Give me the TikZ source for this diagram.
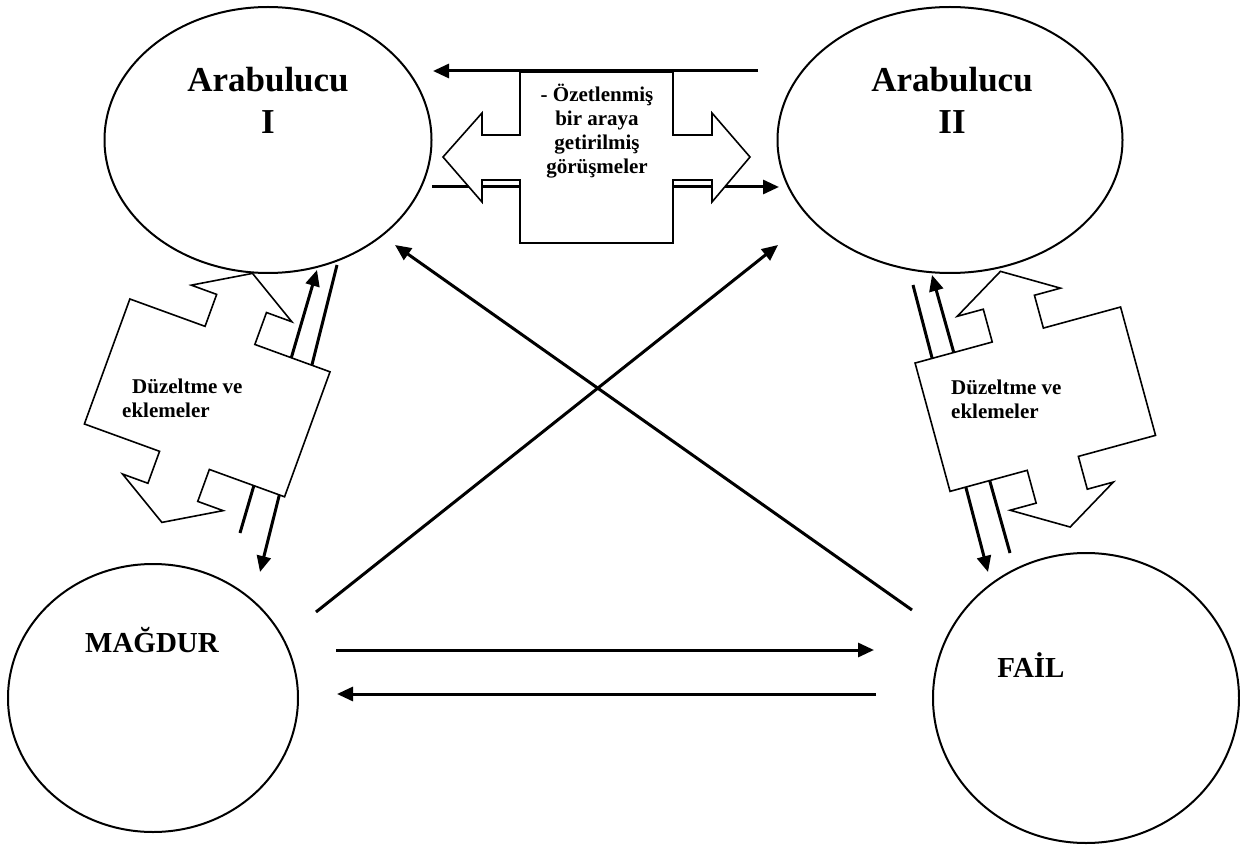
\documentclass[tikz,border=0pt]{standalone}
\usepackage{fontspec}
\setmainfont{Liberation Serif}
\usetikzlibrary{arrows.meta,shapes.geometric}
\begin{document}
\begin{tikzpicture}[x=1pt,y=-1pt,
  ell/.style={draw, line width=2pt, ellipse, inner sep=0pt},
  conn/.style={line width=3pt, -{Triangle[length=16pt,width=14pt]}},
  plainline/.style={line width=3pt},
  callout/.style={draw, fill=white, line width=1.6pt, line join=miter},
  biglbl/.style={font=\fontsize{35}{42}\selectfont\bfseries, inner sep=0pt, align=center},
  namelbl/.style={font=\fontsize{29}{34}\selectfont\bfseries, inner sep=0pt},
  smalllbl/.style={font=\fontsize{21}{24}\selectfont\bfseries, inner sep=0pt},
  vcallout/.pic={
    \draw[callout] (-106.5,-66.5) -- (-26.5,-66.5) -- (-26.5,-100.5) -- (-53.5,-100.5)
      -- (0,-132.5) -- (53.5,-100.5) -- (26.5,-100.5) -- (26.5,-66.5) -- (106.5,-66.5)
      -- (106.5,66.5) -- (26.5,66.5) -- (26.5,100.5) -- (53.5,100.5) -- (0,132.5)
      -- (-53.5,100.5) -- (-26.5,100.5) -- (-26.5,66.5) -- (-106.5,66.5) -- cycle;
  }
]
\path[use as bounding box] (0,0) rectangle (1240,845);

% ellipses
\node[ell, minimum width=327pt, minimum height=266pt] (med1) at (268,140) {};
\node[ell, minimum width=345pt, minimum height=266pt] (med2) at (950,140) {};
\node[ell, minimum width=290pt, minimum height=268pt] (victim) at (153,698) {};
\node[ell, minimum width=306pt, minimum height=290pt] (offender) at (1086,698) {};

% connector end points
\coordinate (t1s) at (758,71);   \coordinate (t1e) at (433,71);
\coordinate (t2s) at (432,187);  \coordinate (t2e) at (779,187);
\coordinate (l1s) at (240,533);  \coordinate (l1e) at (317,270);
\coordinate (l2s) at (337,265);  \coordinate (l2e) at (260,572);
\coordinate (r1s) at (1010,553); \coordinate (r1e) at (932,275);
\coordinate (r2s) at (913,285);  \coordinate (r2e) at (988,572);
\coordinate (d1s) at (912,610);  \coordinate (d1e) at (395,245);
\coordinate (d2s) at (316,612);  \coordinate (d2e) at (778,245);
\coordinate (h1s) at (336,650);  \coordinate (h1e) at (874,650);
\coordinate (h2s) at (876,694);  \coordinate (h2e) at (337,694);

\draw[conn] (t1s) -- (t1e);
\draw[conn] (t2s) -- (t2e);
\draw[conn] (l1s) -- (l1e);
\draw[conn] (l2s) -- (l2e);
\draw[conn] (r1s) -- (r1e);
\draw[conn] (r2s) -- (r2e);
\draw[conn] (d1s) -- (d1e);
\draw[conn] (d2s) -- (d2e);
\draw[conn] (h1s) -- (h1e);
\draw[conn] (h2s) -- (h2e);

% top double block arrow
\draw[callout] (520,72) -- (673,72) -- (673,135) -- (712,135) -- (712,113) -- (750,157)
  -- (712,202) -- (712,180) -- (673,180) -- (673,243) -- (520,243) -- (520,180)
  -- (482,180) -- (482,202) -- (443,157) -- (482,113) -- (482,135) -- (520,135) -- cycle;

% side block arrows
\pic[rotate=-20] at (207.2,397.9) {vcallout};
\pic[rotate=15.25] at (1035.3,399.2) {vcallout};

% labels
\node[biglbl, anchor=north] (tmed1) at (268,67) {Arabulucu\\I};
\node[biglbl, anchor=north] (tmed2) at (952,67) {Arabulucu\\II};
\node[namelbl, anchor=base] (tvictim) at (152,652) {MAĞDUR};
\node[namelbl, anchor=base] (toffender) at (1031,677) {FAİL};
\node[smalllbl, anchor=north, align=center] (tmid) at (597,84) {- Özetlenmiş\\bir araya\\getirilmiş\\görüşmeler};
\node[smalllbl, anchor=north west, align=left] (tleft) at (122,379) {\hspace*{10pt}Düzeltme ve\\eklemeler};
\node[smalllbl, anchor=north west, align=left] (tright) at (951,380) {Düzeltme ve\\eklemeler};
\end{tikzpicture}
\end{document}
